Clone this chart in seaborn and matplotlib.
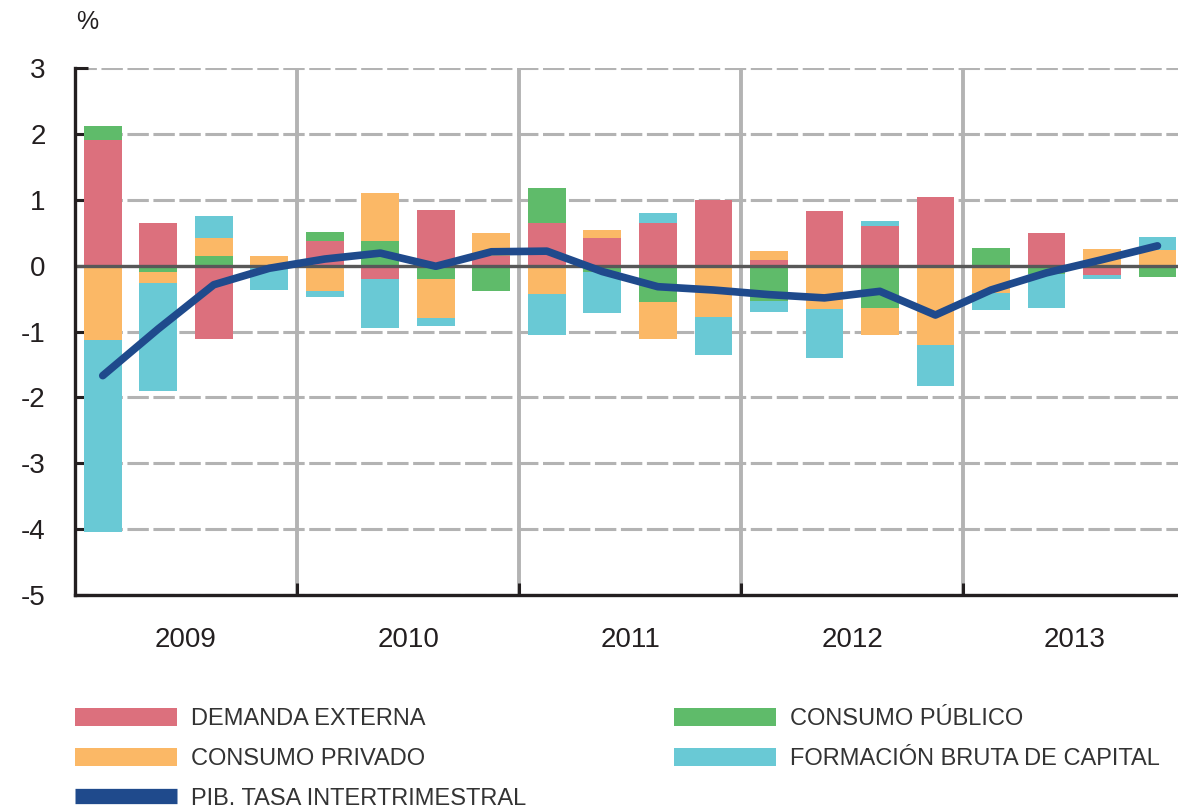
import numpy as np
import pandas as pd
import matplotlib
matplotlib.use("Agg")
import matplotlib.pyplot as plt
from matplotlib.patches import Patch
from matplotlib.lines import Line2D
import seaborn as sns

# ---------------- data ----------------
years = ["2009", "2010", "2011", "2012", "2013"]
quarters = list(range(1, 21))
demanda_externa = [1.90, 0.65, -1.11, 0.00, 0.38, -0.21, 0.84, 0.15, 0.64, 0.42,
                   0.64, 1.00, 0.08, 0.83, 0.60, 1.04, 0.00, 0.50, -0.14, 0.00]
consumo_publico = [0.22, -0.10, 0.14, 0.00, 0.13, 0.37, -0.21, -0.38, 0.54, -0.10,
                   -0.55, 0.00, -0.54, 0.00, -0.65, 0.00, 0.27, -0.12, 0.00, -0.17]
consumo_privado = [-1.13, -0.17, 0.28, 0.15, -0.39, 0.74, -0.58, 0.35, -0.43, 0.12,
                   -0.57, -0.78, 0.14, -0.66, -0.40, -1.20, -0.42, 0.00, 0.25, 0.24]
formacion_bruta = [-2.92, -1.64, 0.34, -0.37, -0.08, -0.73, -0.12, 0.00, -0.62, -0.62,
                   0.16, -0.58, -0.17, -0.74, 0.08, -0.62, -0.25, -0.53, -0.06, 0.20]
pib = [-1.67, -0.96, -0.29, -0.04, 0.10, 0.19, -0.01, 0.21, 0.22, -0.09,
       -0.32, -0.37, -0.44, -0.49, -0.39, -0.75, -0.37, -0.11, 0.09, 0.30]
y_ticks = [3, 2, 1, 0, -1, -2, -3, -4, -5]

labels = {
    "red": "DEMANDA EXTERNA",
    "orange": "CONSUMO PRIVADO",
    "green": "CONSUMO PÚBLICO",
    "cyan": "FORMACIÓN BRUTA DE CAPITAL",
    "line": "PIB. TASA INTERTRIMESTRAL",
}

C_RED = "#DC707D"
C_ORANGE = "#FBB866"
C_GREEN = "#5FBB6A"
C_CYAN = "#69C9D5"
C_NAVY = "#1F4A8C"
C_GRID = "#B3B3B3"
C_AX = "#231F20"
C_TXT = "#333333"

sns.set_theme(style="white")
plt.rcParams["font.family"] = ["Liberation Sans", "DejaVu Sans"]
plt.rcParams["axes.unicode_minus"] = False

fig = plt.figure(figsize=(11.78, 8.09), dpi=100)
ax = fig.add_axes([75 / 1178, 1 - 595 / 809, 1 - 75 / 1178, (595 - 68) / 809])

pos = np.arange(len(quarters)) + 0.5
series = [(demanda_externa, C_RED), (consumo_publico, C_GREEN),
          (consumo_privado, C_ORANGE), (formacion_bruta, C_CYAN)]
pos_base = np.zeros(len(pos))
neg_base = np.zeros(len(pos))
for vals, col in series:
    v = np.array(vals, dtype=float)
    bottoms = np.where(v >= 0, pos_base, neg_base)
    df = pd.DataFrame({"x": pos, "y": v})
    sns.barplot(data=df, x="x", y="y", native_scale=True, bottom=bottoms,
                color=col, width=0.68, errorbar=None, ax=ax, zorder=2,
                linewidth=0, saturation=1)
    pos_base = pos_base + np.where(v >= 0, v, 0)
    neg_base = neg_base + np.where(v < 0, v, 0)

ax.axhline(0, color="#585858", lw=2.4, zorder=3)
sns.lineplot(x=pos, y=pib, color=C_NAVY, lw=5.5, ax=ax, zorder=4)

ax.set_xlim(0, 19.87)
ax.set_ylim(-5, 3)
ax.set_yticks(y_ticks)
ax.set_yticklabels([str(t) for t in y_ticks])
ax.set_xticks([2, 6, 10, 14, 18])
ax.set_xticklabels(years)
ax.set_xticks([4, 8, 12, 16], minor=True)
ax.set_xlabel("")
ax.set_ylabel("")

for s in ["top", "right"]:
    ax.spines[s].set_visible(False)
for s in ["left", "bottom"]:
    ax.spines[s].set_color(C_AX)
    ax.spines[s].set_linewidth(2.4)
    ax.spines[s].set_zorder(5)

ax.tick_params(axis="y", direction="in", length=9, width=2.2, color=C_AX,
               pad=21, labelsize=20, labelcolor=C_AX, left=True)
ax.tick_params(axis="x", which="major", length=0, pad=23, labelsize=20,
               labelcolor=C_AX)
ax.tick_params(axis="x", which="minor", direction="in", length=8.5, width=2.2,
               color=C_AX, bottom=True)

ax.grid(False)
ax.yaxis.grid(True, color=C_GRID, lw=2.2, linestyle=(0, (7, 1.5)), zorder=0)
ax.xaxis.grid(True, which="minor", color=C_GRID, lw=2.8, linestyle="-", zorder=0)
ax.set_axisbelow(True)

fig.text(87 / 1178, 1 - 22 / 809, "%", fontsize=18, color=C_AX,
         ha="center", va="center")

lfont = {"family": ["Liberation Sans Narrow", "Liberation Sans"], "size": 17}
h1 = [Patch(facecolor=C_RED, edgecolor="none"),
      Patch(facecolor=C_ORANGE, edgecolor="none"),
      Line2D([0], [0], color=C_NAVY, lw=11, solid_capstyle="butt")]
l1 = [labels["red"], labels["orange"], labels["line"]]
h2 = [Patch(facecolor=C_GREEN, edgecolor="none"),
      Patch(facecolor=C_CYAN, edgecolor="none")]
l2 = [labels["green"], labels["cyan"]]
common = dict(loc="upper left", frameon=False, borderpad=0, borderaxespad=0,
              handlelength=4.3, handleheight=0.8, handletextpad=0.6,
              labelspacing=0.74, prop=lfont, labelcolor=C_TXT)
leg1 = fig.legend(h1, l1, bbox_to_anchor=(75 / 1178, 1 - 708 / 809), **common)
leg2 = fig.legend(h2, l2, bbox_to_anchor=(674 / 1178, 1 - 708 / 809), **common)

fig.savefig("out.png", dpi=100)
